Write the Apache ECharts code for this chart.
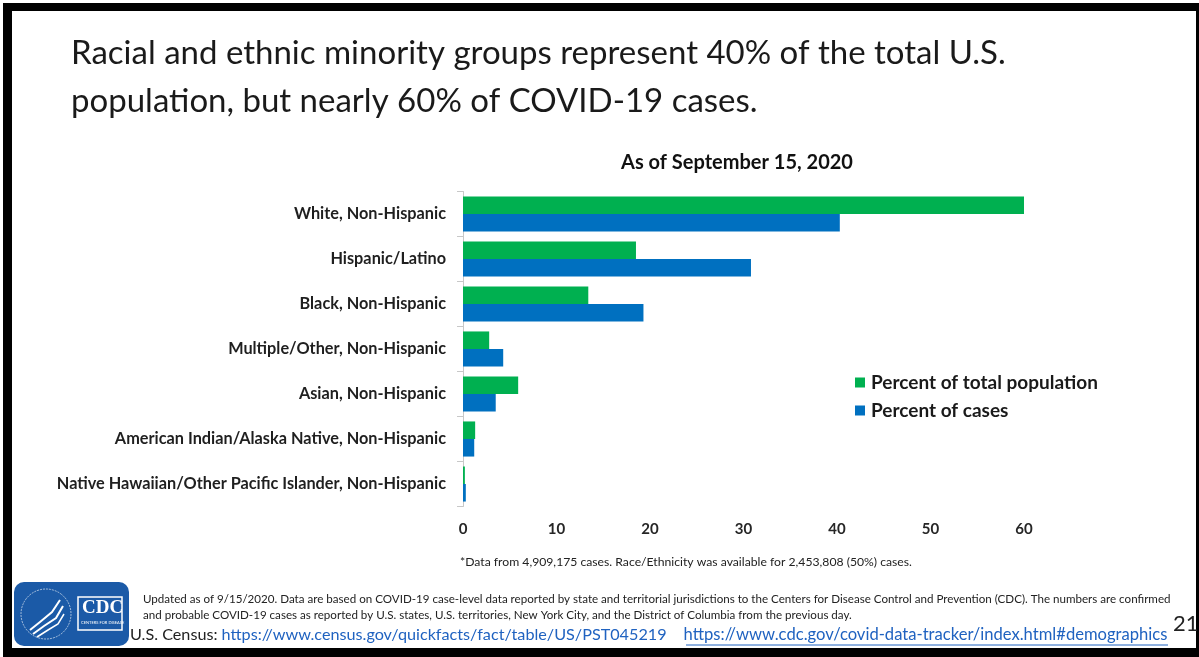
<!DOCTYPE html>
<html>
<head>
<meta charset="utf-8">
<script src="https://cdn.jsdelivr.net/npm/echarts@6/dist/echarts.min.js"></script>
<style>
html,body{margin:0;padding:0;background:#fff;}
#c{width:1199px;height:657px;}
</style>
</head>
<body>
<div id="c"></div>
<script>
const categories = [
  'White, Non-Hispanic',
  'Hispanic/Latino',
  'Black, Non-Hispanic',
  'Multiple/Other, Non-Hispanic',
  'Asian, Non-Hispanic',
  'American Indian/Alaska Native, Non-Hispanic',
  'Native Hawaiian/Other Pacific Islander, Non-Hispanic'
];
const populationPct = [60.0, 18.5, 13.4, 2.8, 5.9, 1.3, 0.2];
const casesPct = [40.3, 30.8, 19.3, 4.3, 3.5, 1.2, 0.3];
const seriesNames = ['Percent of total population', 'Percent of cases'];
const xTicks = { min: 0, max: 60, interval: 10 };

const titleLine1 = 'Racial and ethnic minority groups represent 40% of the total U.S.';
const titleLine2 = 'population, but nearly 60% of COVID-19 cases.';
const subTitle = 'As of September 15, 2020';
const footnote = '*Data from 4,909,175 cases. Race/Ethnicity was available for 2,453,808 (50%) cases.';
const updated1 = 'Updated as of 9/15/2020. Data are based on COVID-19 case-level data reported by state and territorial jurisdictions to the Centers for Disease Control and Prevention (CDC). The numbers are confirmed';
const updated2 = 'and probable COVID-19 cases as reported by U.S. states, U.S. territories, New York City, and the District of Columbia from the previous day.';
const censusLabel = 'U.S. Census: ';
const censusUrl = 'https://www.census.gov/quickfacts/fact/table/US/PST045219';
const cdcUrl = 'https://www.cdc.gov/covid-data-tracker/index.html#demographics';
const pageNum = '21';

const FONT = 'Lato, "Open Sans", sans-serif';
const chart = echarts.init(document.getElementById('c'), null, { renderer: 'canvas' });

chart.setOption({
  animation: false,
  backgroundColor: '#ffffff',
  textStyle: { fontFamily: FONT },
  title: [
    { text: titleLine1, left: 66, top: 32, textStyle: { fontFamily: FONT, fontSize: 33, fontWeight: 'normal', color: '#1a1a1a' } },
    { text: titleLine2, left: 66, top: 80, textStyle: { fontFamily: FONT, fontSize: 33, fontWeight: 'normal', color: '#1a1a1a' } },
    { text: subTitle, left: 732, top: 148, textAlign: 'center', textStyle: { fontFamily: FONT, fontSize: 20, fontWeight: 'bold', color: '#111' } }
  ],
  legend: {
    orient: 'vertical',
    left: 850,
    top: 368,
    itemWidth: 10,
    itemHeight: 10,
    itemGap: 9,
    icon: 'rect',
    data: seriesNames,
    textStyle: { fontFamily: FONT, fontSize: 19, fontWeight: 'bold', color: '#1a1a1a', padding: [0, 0, 0, 1] }
  },
  grid: { left: 463, right: 175, top: 191.5, bottom: 150.5, containLabel: false },
  xAxis: {
    type: 'value',
    min: xTicks.min, max: xTicks.max, interval: xTicks.interval,
    axisLine: { show: false },
    axisTick: { show: false },
    splitLine: { show: false },
    axisLabel: { fontFamily: FONT, fontSize: 15, fontWeight: 'bold', color: '#262626', margin: 15 }
  },
  yAxis: {
    type: 'category',
    inverse: true,
    data: categories,
    axisLine: { show: true, lineStyle: { color: '#c8c8c8', width: 1 } },
    axisTick: { show: true, length: 6, lineStyle: { color: '#c8c8c8' } },
    axisLabel: { fontFamily: FONT, fontSize: 16.3, fontWeight: 'bold', color: '#1f1f1f', margin: 17 }
  },
  series: [
    { name: seriesNames[0], type: 'bar', data: populationPct, itemStyle: { color: '#00B050' }, barGap: '0%', barCategoryGap: '22%' },
    { name: seriesNames[1], type: 'bar', data: casesPct, itemStyle: { color: '#0070C0' }, barGap: '0%', barCategoryGap: '22%' }
  ],
  graphic: [
    { type: 'text', left: 460, top: 556, style: { text: footnote, font: '12.2px ' + FONT, fill: '#222' } },
    { type: 'text', left: 143, top: 593, style: { text: updated1, font: '11.6px ' + FONT, fill: '#222' } },
    { type: 'text', left: 143, top: 609, style: { text: updated2, font: '11.6px ' + FONT, fill: '#222' } },
    { type: 'text', left: 130, top: 626, style: {
        text: '{a|' + censusLabel + '}{b|' + censusUrl + '}{s|    }{c|' + cdcUrl + '}',
        rich: {
          a: { font: '16.2px ' + FONT, fill: '#222' },
          b: { font: '16.2px ' + FONT, fill: '#1f62c0' },
          s: { font: '16.6px ' + FONT },
          c: { font: '16.6px ' + FONT, fill: '#1f62c0' }
        }
      } },
    { type: 'line', shape: { x1: 686, y1: 645, x2: 1168, y2: 645 }, style: { stroke: '#1f62c0', lineWidth: 1 } },
    { type: 'text', left: 1173, top: 613, z: 200, style: { text: pageNum, font: '22px ' + FONT, fill: '#222' } },
    // CDC logo
    { type: 'rect', shape: { x: 14, y: 582, width: 115, height: 64, r: 10 }, style: { fill: '#1b5aa7' } },
    { type: 'circle', shape: { cx: 46, cy: 614, r: 25 }, style: { fill: 'none', stroke: 'rgba(255,255,255,0.6)', lineWidth: 1, lineDash: [2, 1] } },
    { type: 'polyline', shape: { points: [[30, 630], [40, 622], [52, 612], [60, 600]] }, style: { stroke: '#fff', lineWidth: 2, fill: 'none' } },
    { type: 'polyline', shape: { points: [[33, 634], [44, 626], [56, 618], [63, 606]] }, style: { stroke: '#fff', lineWidth: 2, fill: 'none' } },
    { type: 'polyline', shape: { points: [[37, 637], [48, 630], [58, 624], [64, 614]] }, style: { stroke: '#fff', lineWidth: 1.5, fill: 'none' } },
    { type: 'rect', shape: { x: 78, y: 597, width: 44, height: 33 }, style: { fill: 'none', stroke: '#fff', lineWidth: 1.5 } },
    { type: 'text', left: 82, top: 599, style: { text: 'CDC', font: 'bold 19px "Liberation Serif", "DejaVu Serif", serif', fill: '#fff' } },
    { type: 'text', left: 81, top: 621, style: { text: 'CENTERS FOR DISEASE', font: '4px ' + FONT, fill: '#fff' } },
    // frame
    { type: 'rect', shape: { x: 3, y: 3, width: 1196, height: 8 }, z: 100, style: { fill: '#000' } },
    { type: 'rect', shape: { x: 3, y: 3, width: 9, height: 654 }, z: 100, style: { fill: '#000' } },
    { type: 'rect', shape: { x: 1196, y: 3, width: 3, height: 654 }, z: 100, style: { fill: '#000' } },
    { type: 'rect', shape: { x: 3, y: 648, width: 1196, height: 9 }, z: 100, style: { fill: '#000' } }
  ]
});
</script>
</body>
</html>
